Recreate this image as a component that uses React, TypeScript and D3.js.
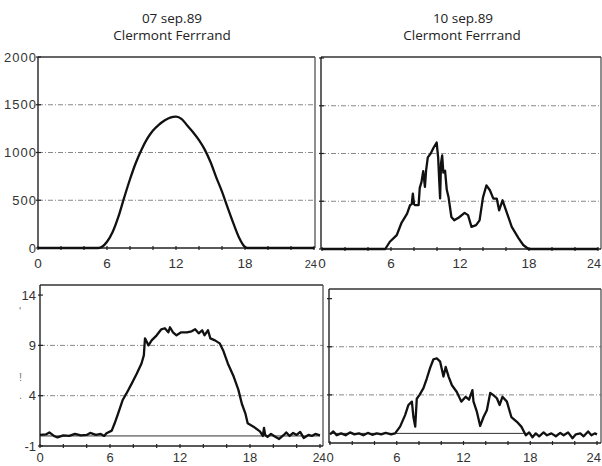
import React from 'react'
import * as d3 from 'd3'

// hour ticks shared by all four panels
const hourTicks = [0, 6, 12, 18, 24]
const hourMinorTicks = [0, 2, 4, 6, 8, 10, 12, 14, 16, 18, 20, 22, 24]

const titles = [
  ['07 sep.89', 'Clermont Ferrrand'],
  ['10 sep.89', 'Clermont Ferrrand'],
]

const irrTicks = [0, 500, 1000, 1500, 2000]
const irrGrid = [500, 1000, 1500]
const tempTicks = [14, 9, 4, -1]
const tempGrid = [4, 9]

// [hour, value]
const sep07Irr: [number, number][] = [
  [0, 0], [5.25, 0], [5.6, 15], [6, 65], [6.5, 170], [7, 330], [7.5, 530], [8, 720],
  [8.5, 890], [9, 1030], [9.5, 1145], [10, 1230], [10.5, 1290], [11, 1335], [11.5, 1365],
  [12, 1375], [12.5, 1350], [13, 1280], [13.5, 1210], [14, 1130], [14.5, 1030], [15, 900],
  [15.5, 740], [16, 590], [16.5, 420], [17, 255], [17.5, 105], [18, 10], [18.2, 0], [24, 0],
]

const sep10Irr: [number, number][] = [
  [0, 0], [5.5, 0], [5.9, 76], [6.5, 145], [6.9, 270], [7.4, 370], [7.65, 458], [7.8, 470],
  [7.9, 580], [8.0, 470], [8.1, 460], [8.4, 460], [8.5, 640], [8.65, 700], [8.8, 815],
  [8.95, 650], [9.05, 820], [9.2, 960], [9.45, 1000], [9.7, 1060], [9.97, 1115], [10.1, 960],
  [10.2, 700], [10.27, 530], [10.35, 900], [10.45, 980], [10.55, 800], [10.7, 820],
  [10.85, 620], [11.0, 545], [11.25, 335], [11.5, 300], [11.9, 330], [12.4, 378],
  [12.7, 355], [13.0, 232], [13.4, 250], [13.7, 300], [14.0, 540], [14.3, 667], [14.6, 615],
  [14.9, 527], [15.2, 527], [15.4, 405], [15.7, 510], [16.1, 370], [16.5, 232], [17.1, 111],
  [17.5, 42], [17.95, 0], [24, 0],
]

const sep07Temp: [number, number][] = [
  [0, 0.1], [0.5, 0.15], [0.8, 0.35], [1.2, 0.0], [1.5, -0.15], [2, 0.05], [2.5, 0.0],
  [3, 0.2], [3.5, 0.05], [4, 0.1], [4.3, 0.3], [4.8, 0.1], [5.2, 0.2], [5.5, 0.0],
  [5.7, 0.27], [6.15, 0.53], [6.4, 1.26], [6.7, 2.25], [7.1, 3.6], [7.4, 4.2], [7.86, 5.2],
  [8.3, 6.2], [8.7, 7.2], [8.9, 8.0], [9.0, 9.7], [9.3, 9.0], [9.57, 9.5], [10.0, 10.0],
  [10.4, 10.6], [10.7, 10.7], [11.0, 10.3], [11.14, 10.8], [11.4, 10.3], [11.7, 10.0],
  [12.1, 10.3], [12.6, 10.3], [13.0, 10.4], [13.3, 10.6], [13.6, 10.2], [13.9, 10.5],
  [14.1, 10.0], [14.4, 10.5], [14.6, 9.7], [15.0, 9.5], [15.4, 9.2], [15.7, 8.5],
  [16.1, 7.2], [16.6, 5.9], [17.0, 4.6], [17.3, 3.2], [17.6, 2.25], [17.8, 1.26],
  [18.3, 0.92], [18.85, 0.45], [19.1, 0.0], [19.2, 0.8], [19.3, 0.1], [19.5, -0.1],
  [19.8, 0.2], [20.2, -0.1], [20.5, -0.3], [20.9, 0.1], [21.1, 0.35], [21.4, 0.0],
  [21.7, 0.3], [22, 0.1], [22.3, 0.4], [22.6, -0.2], [23, 0.1], [23.3, 0.0], [23.6, 0.2],
  [24, 0.05],
]

const sep10Temp: [number, number][] = [
  [0, -0.1], [0.3, 0.2], [0.6, -0.2], [1, 0.0], [1.4, -0.2], [1.8, 0.1], [2.2, -0.1],
  [2.6, 0.0], [3, -0.2], [3.4, 0.05], [3.8, -0.15], [4.2, 0.0], [4.6, -0.1], [5, 0.05],
  [5.5, -0.1], [5.85, 0.0], [6.3, 0.7], [6.75, 1.9], [7.05, 2.95], [7.36, 3.3], [7.5, 1.7],
  [7.66, 0.7], [7.8, 3.6], [8.05, 4.0], [8.4, 4.7], [8.7, 5.7], [9.0, 6.8], [9.3, 7.7],
  [9.6, 7.8], [9.9, 7.45], [10.2, 5.9], [10.4, 6.9], [10.66, 5.9], [10.96, 5.0],
  [11.4, 4.3], [11.8, 3.3], [12.2, 3.8], [12.5, 3.5], [12.8, 4.5], [12.9, 3.3],
  [13.2, 2.25], [13.5, 0.77], [13.8, 1.7], [14.1, 2.4], [14.4, 4.2], [14.66, 4.0],
  [15.0, 3.65], [15.25, 2.95], [15.5, 3.8], [15.9, 3.3], [16.3, 1.7], [16.8, 1.2],
  [17.2, 0.7], [17.6, -0.2], [17.9, 0.1], [18.2, -0.4], [18.5, 0.0], [18.8, -0.3],
  [19.2, 0.1], [19.5, -0.2], [19.9, 0.0], [20.3, -0.3], [20.7, 0.05], [21, -0.2],
  [21.4, 0.1], [21.8, -0.5], [22.1, -0.1], [22.5, 0.0], [22.8, -0.3], [23.2, 0.2],
  [23.5, -0.2], [23.8, 0.0], [24, -0.1],
]

const tickFont = '"Liberation Sans", Arial, sans-serif'
const gridDash = '5 2 1 2'

type PanelProps = {
  xr: [number, number]
  yd: [number, number]
  yr: [number, number]
  frame: { l: number; r: number; t: number; b: number }
  grid: number[]
  yTicks?: number[]
  yTickMarks?: number[]
  yLabelX?: number
  yLabelSpacing?: number
  xLabelY: number
  xLabelSize: number
  lastLabel: { x: number; size: number; anchor: string }
  data: [number, number][]
  smooth?: boolean
  zeroLine?: [number, number]
}

function Panel(p: PanelProps) {
  const x = d3.scaleLinear().domain([0, 24]).range(p.xr)
  const y = d3.scaleLinear().domain(p.yd).range(p.yr)
  const line = d3.line<[number, number]>()
    .x(d => x(d[0]))
    .y(d => y(d[1]))
    .curve(p.smooth ? d3.curveMonotoneX : d3.curveLinear)
  const f = p.frame
  return (
    <g>
      <rect x={f.l} y={f.t} width={f.r - f.l} height={f.b - f.t} fill="#fff" />
      {p.grid.map(v => (
        <line key={v} x1={f.l} x2={f.r} y1={y(v)} y2={y(v)} stroke="#888" strokeWidth={1} strokeDasharray={gridDash} />
      ))}
      {p.zeroLine && (
        <line x1={x(p.zeroLine[0])} x2={x(p.zeroLine[1])} y1={y(0)} y2={y(0)} stroke="#333" strokeWidth={1} />
      )}
      {/* frame */}
      <line x1={f.l} x2={f.r} y1={f.t} y2={f.t} stroke="#333" strokeWidth={1.4} />
      <line x1={f.r} x2={f.r} y1={f.t} y2={f.b} stroke="#444" strokeWidth={1.2} />
      <line x1={f.l} x2={f.l} y1={f.t} y2={f.b} stroke="#222" strokeWidth={1.4} />
      <line x1={f.l} x2={f.r} y1={f.b} y2={f.b} stroke="#222" strokeWidth={1.5} />
      {hourMinorTicks.map(h => (
        <line key={h} x1={x(h)} x2={x(h)} y1={f.b - 2} y2={f.b + 2} stroke="#222" strokeWidth={1.2} />
      ))}
      {(p.yTickMarks || []).map(v => (
        <line key={v} x1={f.l - 2} x2={f.l + 3} y1={y(v)} y2={y(v)} stroke="#222" strokeWidth={1.2} />
      ))}
      <path d={line(p.data) || ''} fill="none" stroke="#111" strokeWidth={2.3} strokeLinejoin="round" />
      {hourTicks.map(h => h === 24 ? (
        <text key={h} x={p.lastLabel.x} y={p.xLabelY} textAnchor={p.lastLabel.anchor} fontFamily={tickFont}
          fontSize={p.lastLabel.size} fill="#333">{h}</text>
      ) : (
        <text key={h} x={x(h)} y={p.xLabelY} textAnchor="middle" fontFamily={tickFont} fontSize={p.xLabelSize} fill="#333">{h}</text>
      ))}
      {(p.yTicks || []).map(v => (
        <text key={v} x={p.yLabelX} y={y(v) + 4.5} textAnchor="end" fontFamily={tickFont} fontSize={13}
          letterSpacing={p.yLabelSpacing || 0} fill="#333">{v}</text>
      ))}
    </g>
  )
}

export default function App() {
  const titleFont = '"Open Sans", "Liberation Sans", sans-serif'
  return (
    <svg width={602} height={466} style={{ position: 'fixed', left: 0, top: 0, background: '#fff' }}>
      <rect width={602} height={466} fill="#fff" />
      {titles.map((t, i) => (
        <g key={i} fontFamily={titleFont} fontSize={13.5} fill="#222" textAnchor="middle">
          <text x={i === 0 ? 172 : 463} y={23}>{t[0]}</text>
          <text x={i === 0 ? 172 : 462} y={40}>{t[1]}</text>
        </g>
      ))}
      <Panel xr={[38, 314]} yd={[0, 2000]} yr={[248, 57]} frame={{ l: 38, r: 315, t: 57, b: 248 }}
        grid={irrGrid} yTicks={irrTicks} yTickMarks={irrTicks} yLabelX={37} yLabelSpacing={1}
        xLabelY={268} xLabelSize={13.5} lastLabel={{ x: 317, size: 11, anchor: 'end' }} data={sep07Irr} smooth />
      <Panel xr={[322, 598]} yd={[0, 2000]} yr={[249, 58]} frame={{ l: 321, r: 601, t: 57, b: 249 }}
        grid={irrGrid} yTickMarks={irrTicks} xLabelY={268} xLabelSize={13.5}
        lastLabel={{ x: 601, size: 12.5, anchor: 'end' }} data={sep10Irr} />
      <Panel xr={[40, 320]} yd={[-1, 15]} yr={[446, 285]} frame={{ l: 40, r: 323, t: 285, b: 446 }}
        grid={tempGrid} yTicks={tempTicks} yTickMarks={tempTicks} yLabelX={36}
        xLabelY={462} xLabelSize={13} lastLabel={{ x: 326, size: 12, anchor: 'end' }} data={sep07Temp} zeroLine={[0, 24]} />
      <Panel xr={[330, 597]} yd={[-1, 15]} yr={[443, 289]} frame={{ l: 329, r: 601, t: 289, b: 443 }}
        grid={tempGrid} yTickMarks={[14, 9, 4]} xLabelY={462} xLabelSize={13}
        lastLabel={{ x: 601, size: 13, anchor: 'end' }} data={sep10Temp} zeroLine={[0, 17.7]} />
      {/* stray marks on the scanned left axis */}
      <g fontFamily={tickFont} fontSize={11} fill="#777">
        <text x={19} y={315}>'</text>
        <text x={19} y={381}>!</text>
        <text x={19} y={399}>.</text>
      </g>
    </svg>
  )
}
